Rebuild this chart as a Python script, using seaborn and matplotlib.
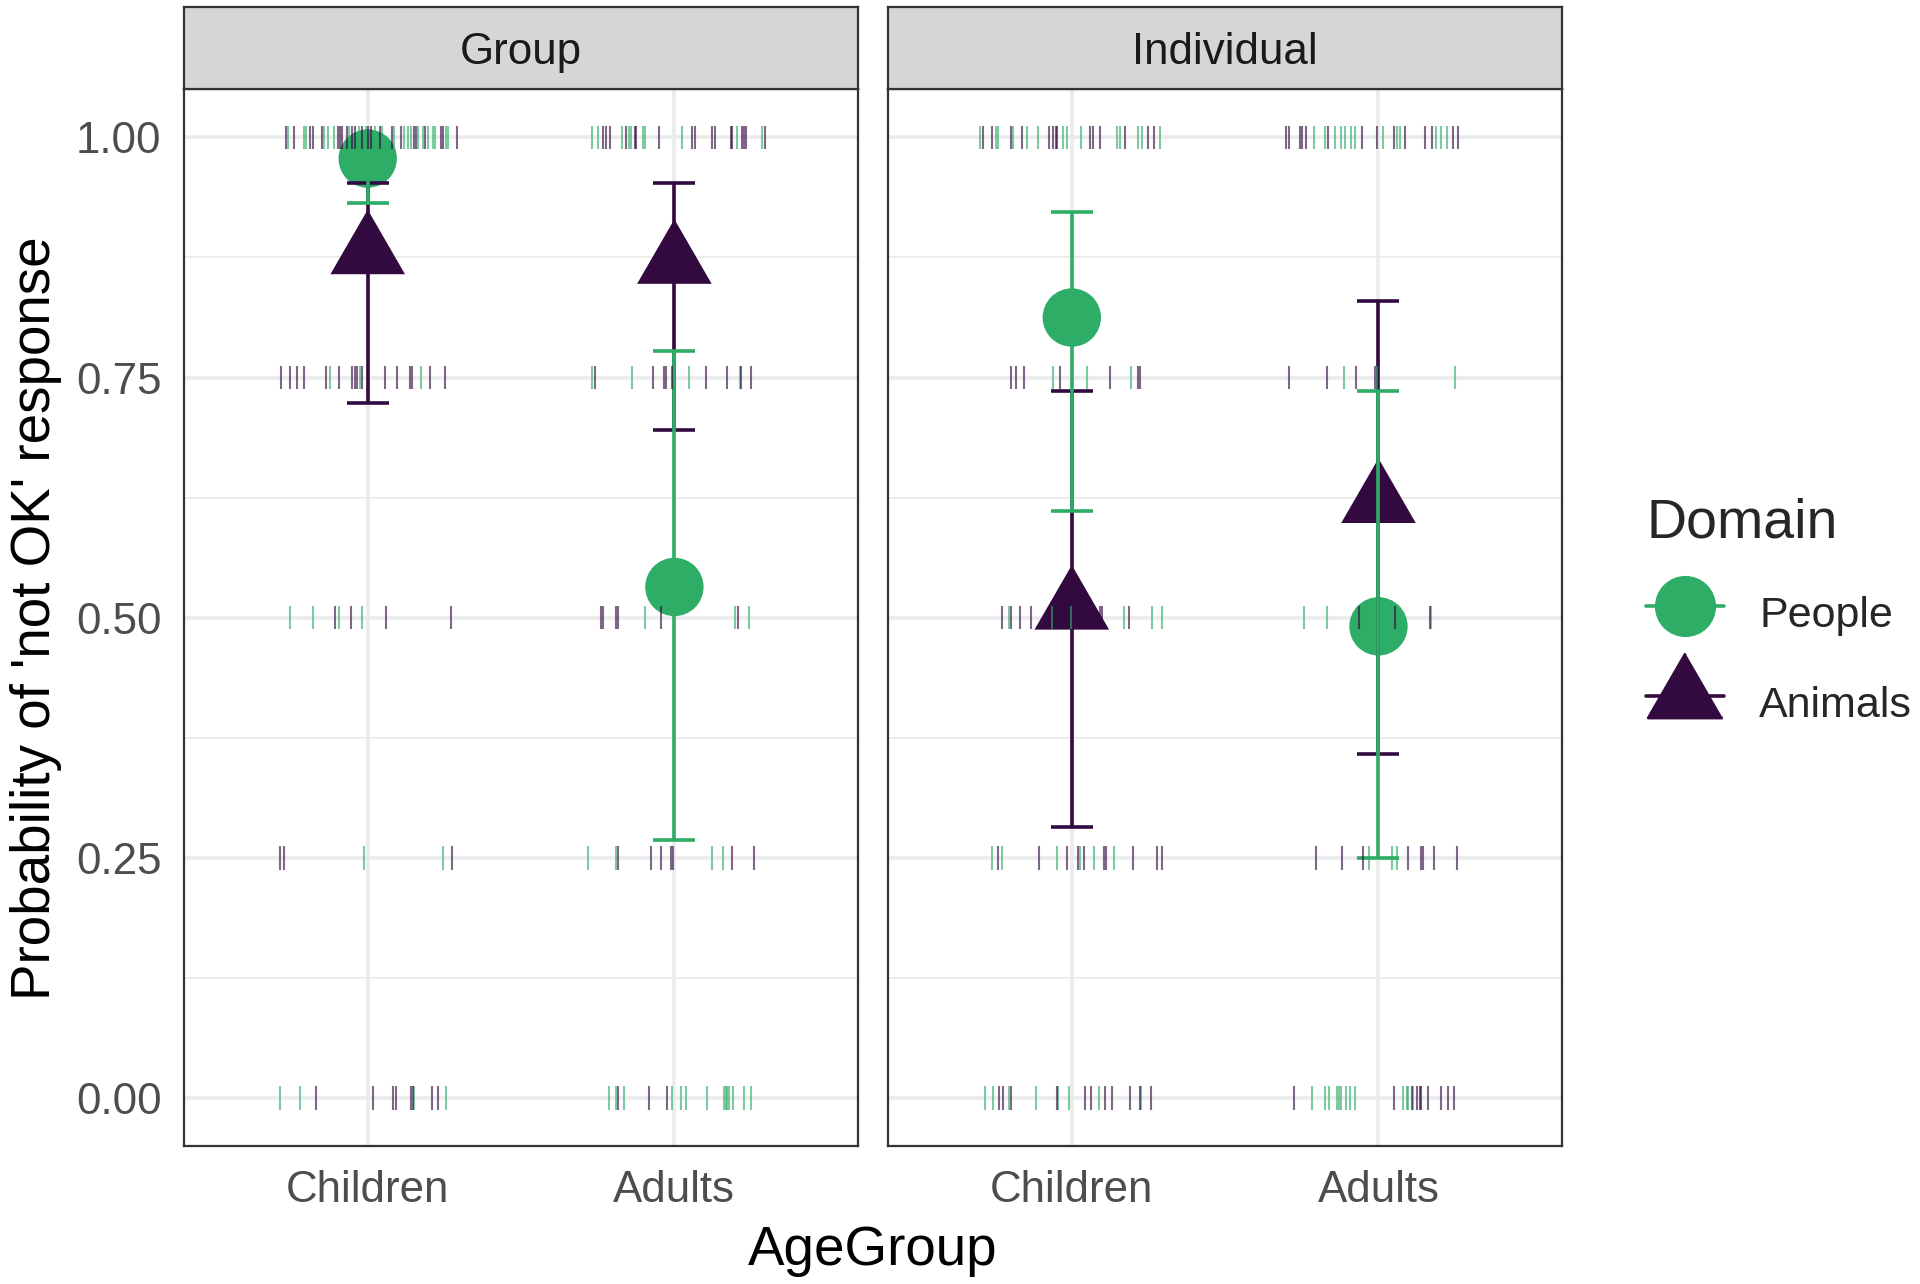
import numpy as np
import pandas as pd
import matplotlib
matplotlib.use("Agg")
import matplotlib.pyplot as plt
import seaborn as sns
from matplotlib.lines import Line2D
from matplotlib.markers import MarkerStyle

# ---------------- data ----------------
facets = ["Group", "Individual"]
age_groups = ["Children", "Adults"]
domains = ["People", "Animals"]
responses = [1.00, 0.75, 0.50, 0.25, 0.00]
y_ticks = [0.00, 0.25, 0.50, 0.75, 1.00]
y_tick_labels = ["0.00", "0.25", "0.50", "0.75", "1.00"]

# model estimates and intervals, [facet][age group]
people_est = [[0.978, 0.532], [0.8125, 0.491]]
people_lo = [[0.932, 0.269], [0.611, 0.250]]
people_hi = [[0.995, 0.778], [0.922, 0.736]]
animals_est = [[0.880, 0.870], [0.510, 0.621]]
animals_lo = [[0.723, 0.695], [0.282, 0.358]]
animals_hi = [[0.953, 0.953], [0.736, 0.830]]

# raw responses: horizontal jitter offsets, one list per response level (1, .75, .5, .25, 0)
group_children_people = [
    [-0.259, -0.209, -0.200, -0.144, -0.128, -0.111, -0.061, -0.030, -0.006, 0.024, 0.048,
     0.086, 0.119, 0.132, 0.140, 0.164, 0.180, 0.197, 0.213, 0.218, 0.256, 0.261],
    [-0.124, -0.025, 0.175],
    [-0.252, -0.179, -0.095, -0.017],
    [-0.012, 0.247],
    [-0.287, -0.222, 0.151, 0.256],
]
group_children_animals = [
    [-0.268, -0.241, -0.189, -0.178, -0.149, -0.097, -0.090, -0.084, -0.068, -0.052, -0.041,
     -0.019, 0.000, 0.011, 0.040, 0.078, 0.110, 0.151, 0.159, 0.186, 0.238, 0.245, 0.292],
    [-0.284, -0.252, -0.230, -0.209, -0.135, -0.092, -0.052, -0.043, -0.036, -0.019, 0.058,
     0.097, 0.137, 0.143, 0.202, 0.251],
    [-0.108, -0.055, 0.059, 0.270],
    [-0.287, -0.273, 0.276],
    [-0.167, 0.016, 0.083, 0.091, 0.140, 0.148, 0.211, 0.229],
]
group_adults_people = [
    [-0.270, -0.249, -0.170, -0.148, -0.140, -0.103, -0.097, 0.025, 0.205, 0.286],
    [-0.270, -0.137, 0.049, 0.213],
    [-0.095, 0.198, 0.243],
    [-0.281, -0.189, 0.124, 0.159],
    [-0.213, -0.191, -0.165, -0.009, 0.022, 0.038, 0.105, 0.162, 0.167, 0.173, 0.178,
     0.191, 0.227, 0.249],
]
group_adults_animals = [
    [-0.232, -0.222, -0.211, -0.157, -0.130, -0.124, -0.051, 0.059, 0.068, 0.122, 0.133,
     0.184, 0.189, 0.219, 0.227, 0.234, 0.295],
    [-0.259, -0.070, -0.035, -0.027, -0.008, 0.103, 0.170, 0.217, 0.249],
    [-0.238, -0.232, -0.191, -0.184, -0.043, 0.209],
    [-0.184, -0.076, -0.043, -0.011, -0.003, 0.189, 0.261],
    [-0.184, -0.083, -0.025],
]
individual_children_people = [
    [-0.298, -0.247, -0.242, -0.193, -0.147, -0.109, -0.028, -0.017, 0.030, 0.147, 0.158,
     0.215, 0.228, 0.287],
    [-0.061, 0.048, 0.192],
    [-0.204, -0.064, -0.004, 0.169, 0.260, 0.293],
    [-0.260, -0.226, -0.048, 0.028, 0.071, 0.139],
    [-0.283, -0.256, -0.204, -0.118, -0.045, -0.008, 0.088, 0.226],
]
individual_children_animals = [
    [-0.291, -0.260, -0.197, -0.161, -0.075, -0.061, -0.053, -0.048, 0.058, 0.069, 0.091,
     0.174, 0.250, 0.269],
    [-0.197, -0.183, -0.156, -0.037, 0.125, 0.217, 0.223],
    [-0.229, -0.199, -0.170, -0.132, -0.037, 0.066, 0.093, 0.098, 0.188],
    [-0.240, -0.107, -0.015, 0.019, 0.041, 0.104, 0.112, 0.199, 0.277, 0.293],
    [-0.239, -0.223, -0.197, -0.048, 0.044, 0.061, 0.109, 0.131, 0.190, 0.223, 0.258],
]
individual_adults_people = [
    [-0.211, -0.175, -0.143, -0.121, -0.110, -0.089, -0.078, 0.016, 0.059, 0.070, 0.189,
     0.205, 0.222],
    [-0.113, -0.005, 0.251],
    [-0.243, -0.167, 0.171],
    [-0.032, 0.043, 0.059],
    [-0.216, -0.173, -0.160, -0.135, -0.128, -0.121, -0.106, -0.092, -0.078, 0.081, 0.092,
     0.097, 0.113],
]
individual_adults_animals = [
    [-0.303, -0.292, -0.257, -0.249, -0.238, -0.164, -0.054, -0.005, 0.049, 0.086, 0.151,
     0.173, 0.243, 0.259],
    [-0.292, -0.167, -0.072, -0.011],
    [-0.065, 0.054, 0.167],
    [-0.205, -0.119, -0.051, 0.097, 0.140, 0.144, 0.182, 0.256],
    [-0.276, 0.049, 0.108, 0.124, 0.135, 0.140, 0.162, 0.203, 0.227, 0.246],
]

rug_sets = {
    ("Group", "Children", "People"): group_children_people,
    ("Group", "Children", "Animals"): group_children_animals,
    ("Group", "Adults", "People"): group_adults_people,
    ("Group", "Adults", "Animals"): group_adults_animals,
    ("Individual", "Children", "People"): individual_children_people,
    ("Individual", "Children", "Animals"): individual_children_animals,
    ("Individual", "Adults", "People"): individual_adults_people,
    ("Individual", "Adults", "Animals"): individual_adults_animals,
}

rows = []
for (facet, age, dom), levels in rug_sets.items():
    for resp, offs in zip(responses, levels):
        for o in offs:
            rows.append(dict(Facet=facet, AgeGroup=age, Domain=dom, Response=resp,
                             xpos=age_groups.index(age) + o))
rug_df = pd.DataFrame(rows)

est_rows = []
for fi, facet in enumerate(facets):
    for ai, age in enumerate(age_groups):
        est_rows.append(dict(Facet=facet, AgeGroup=age, Domain="People", xpos=ai,
                             est=people_est[fi][ai], lo=people_lo[fi][ai], hi=people_hi[fi][ai]))
        est_rows.append(dict(Facet=facet, AgeGroup=age, Domain="Animals", xpos=ai,
                             est=animals_est[fi][ai], lo=animals_lo[fi][ai], hi=animals_hi[fi][ai]))
est_df = pd.DataFrame(est_rows)

# ---------------- style ----------------
sns.set_theme(style="white")
plt.rcParams["font.family"] = ["Liberation Sans", "DejaVu Sans"]

GREEN = "#2EAD67"
PURPLE = "#320A40"
palette = {"People": GREEN, "Animals": PURPLE}
tri_marker = MarkerStyle([(0.0, 1.0), (-0.866, -0.5), (0.866, -0.5)])
markers = {"People": "o", "Animals": tri_marker}
msizes = {"People": 21, "Animals": 31}
TICK_FS = 15.8

W, H, DPI = 1920, 1284, 200
fig = plt.figure(figsize=(W / DPI, H / DPI), dpi=DPI)

panel_left = [183.7 / W, 887.8 / W]
panel_w = 674.7 / W
panel_bottom = 1 - 1146 / H
panel_top = 1 - 89.4 / H
strip_top = 1 - 7.3 / H

axes = []
for fi, facet in enumerate(facets):
    ax = fig.add_axes([panel_left[fi], panel_bottom, panel_w, panel_top - panel_bottom])
    axes.append(ax)
    ax.set_facecolor("white")
    ax.set_axisbelow(True)
    ax.set_xlim(-0.6, 1.6)
    ax.set_ylim(-0.05, 1.05)
    ax.set_xticks([0, 1])
    ax.set_xticklabels(age_groups)
    ax.set_yticks(y_ticks)
    ax.set_yticks([0.125, 0.375, 0.625, 0.875], minor=True)
    if fi == 0:
        ax.set_yticklabels(y_tick_labels)
    else:
        ax.tick_params(axis="y", which="both", left=False, labelleft=False)
    ax.grid(True, which="major", color="#EBEBEB", lw=1.3)
    ax.grid(True, which="minor", axis="y", color="#EBEBEB", lw=0.65)
    ax.tick_params(axis="both", which="major", labelsize=TICK_FS, colors="#333333",
                   labelcolor="#4D4D4D", length=4.4, width=0.8)
    ax.tick_params(axis="x", which="major", pad=4.2)
    ax.tick_params(axis="y", which="major", pad=3.6)
    ax.tick_params(axis="y", which="minor", left=False)
    for sp in ax.spines.values():
        sp.set_color("#333333")
        sp.set_linewidth(0.8)

    sub_est = est_df[est_df.Facet == facet]
    # points
    for dom in ["Animals", "People"]:
        d = sub_est[sub_est.Domain == dom]
        sns.scatterplot(data=d, x="xpos", y="est", color=palette[dom], marker=markers[dom],
                        s=msizes[dom] ** 2, linewidth=0, edgecolor="none", legend=False,
                        ax=ax, zorder=3)
    # error bars
    for dom in ["Animals", "People"]:
        d = sub_est[sub_est.Domain == dom]
        ax.errorbar(d["xpos"], d["est"], yerr=[d["est"] - d["lo"], d["hi"] - d["est"]],
                    fmt="none", ecolor=palette[dom], elinewidth=1.3, capsize=7.5,
                    capthick=1.3, zorder=4)
    # raw responses
    sub_rug = rug_df[rug_df.Facet == facet]
    sns.scatterplot(data=sub_rug, x="xpos", y="Response", hue="Domain", hue_order=domains,
                    palette=palette, marker="|", s=72, linewidth=0.75, alpha=0.62,
                    legend=False, ax=ax, zorder=5)
    ax.set_xlabel("")
    ax.set_ylabel("")

    # strip
    sax = fig.add_axes([panel_left[fi], panel_top, panel_w, strip_top - panel_top])
    sax.set_facecolor("#D6D6D6")
    sax.set_xticks([])
    sax.set_yticks([])
    for sp in sax.spines.values():
        sp.set_color("#333333")
        sp.set_linewidth(0.8)
    sax.text(0.5, 0.45, facet, ha="center", va="center", fontsize=TICK_FS, color="#1A1A1A",
             transform=sax.transAxes)

fig.text(0.019, (panel_bottom + panel_top) / 2, "Probability of 'not OK' response",
         rotation=90, ha="center", va="center", fontsize=19.7, color="black")
fig.text((panel_left[0] + panel_left[1] + panel_w) / 2, 0.026, "AgeGroup",
         ha="center", va="center", fontsize=19.7, color="black")

handles = [
    Line2D([], [], color=GREEN, marker="o", markersize=21, lw=1.3, linestyle="-"),
    Line2D([], [], color=PURPLE, marker=tri_marker, markersize=31, lw=1.3, linestyle="-"),
]
leg = fig.legend(handles, domains, title="Domain", loc="upper left",
                 bbox_to_anchor=(0.8485, 0.626), frameon=False, fontsize=15.5,
                 title_fontsize=20, handlelength=1.8, handleheight=1.6,
                 labelspacing=0.82, handletextpad=0.82, borderaxespad=0, alignment="left")

fig.savefig("out.png", dpi=DPI)
